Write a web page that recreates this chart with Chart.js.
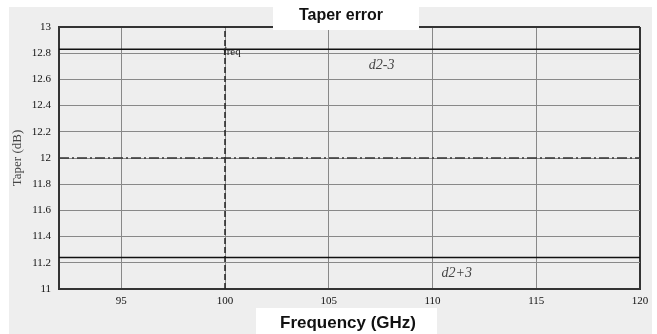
<!DOCTYPE html>
<html>
<head>
<meta charset="utf-8">
<script src="https://cdn.jsdelivr.net/npm/chart.js@4.4.1/dist/chart.umd.min.js"></script>
<style>
  html, body { margin: 0; padding: 0; background: #fff; }
  #wrap { width: 657px; height: 334px; position: relative; }
</style>
</head>
<body>
<div id="wrap"><canvas id="c" width="657" height="334"></canvas></div>
<script>
// ---- data ----
const xTicks = [95, 100, 105, 110, 115, 120];
const yTicks = [11, 11.2, 11.4, 11.6, 11.8, 12, 12.2, 12.4, 12.6, 12.8, 13];
const xRange = [92, 120];
const upperLimit = 12.83;   // d2-3
const lowerLimit = 11.24;   // d2+3
const nominal = 12;
const freqMark = 100;
const labels = [
  { text: 'd2-3', x: 107.55, y: 12.71 },
  { text: 'd2+3', x: 111.17, y: 11.12 }
];

function hline(v, opts) {
  return Object.assign({
    data: [{ x: xRange[0], y: v }, { x: xRange[1], y: v }],
    borderColor: '#111', borderWidth: 1.5, pointRadius: 0, showLine: true, fill: false
  }, opts);
}

// gray panel + white title boxes + annotations
const decor = {
  id: 'decor',
  beforeDraw(chart) {
    const ctx = chart.ctx;
    ctx.save();
    ctx.fillStyle = '#eeeeee';
    ctx.fillRect(9, 7, 643, 327);
    ctx.restore();
  },
  afterDraw(chart) {
    const ctx = chart.ctx;
    const xs = chart.scales.x, ys = chart.scales.y;
    ctx.save();
    // title boxes
    ctx.fillStyle = '#fff';
    ctx.fillRect(273, 0, 146, 30);
    ctx.fillRect(256, 308, 181, 26);
    ctx.fillStyle = '#111';
    ctx.font = 'bold 16px "Liberation Sans", Arial, sans-serif';
    ctx.textAlign = 'center';
    ctx.textBaseline = 'middle';
    ctx.fillText('Taper error', 341, 16);
    ctx.font = 'bold 17px "Liberation Sans", Arial, sans-serif';
    ctx.fillText('Frequency (GHz)', 348, 323);
    // curve labels
    ctx.fillStyle = '#444';
    ctx.font = 'italic 14px "Liberation Serif", "DejaVu Serif", serif';
    labels.forEach(l => ctx.fillText(l.text, xs.getPixelForValue(l.x), ys.getPixelForValue(l.y)));
    // freq marker label
    ctx.fillStyle = '#222';
    ctx.font = '11px "Liberation Serif", serif';
    ctx.textAlign = 'left';
    ctx.fillText('freq', xs.getPixelForValue(freqMark) - 2, ys.getPixelForValue(upperLimit) + 3);
    ctx.restore();
  }
};

new Chart(document.getElementById('c'), {
  type: 'scatter',
  data: {
    datasets: [
      hline(upperLimit),
      hline(lowerLimit),
      hline(nominal, { borderColor: '#333', borderWidth: 1.5, borderDash: [10, 3, 2, 3] }),
      {
        data: [{ x: freqMark, y: 11 }, { x: freqMark, y: 13 }],
        borderColor: '#222', borderWidth: 1.5, borderDash: [6, 3], pointRadius: 0, showLine: true
      }
    ]
  },
  options: {
    responsive: false,
    animation: false,
    layout: { padding: { left: 0, top: 27, right: 17, bottom: 0 } },
    plugins: { legend: { display: false }, tooltip: { enabled: false } },
    scales: {
      x: {
        type: 'linear', min: xRange[0], max: xRange[1],
        afterBuildTicks: s => { s.ticks = xTicks.map(v => ({ value: v })); },
        afterFit: s => { s.height = 45; },
        border: { display: true, color: '#333', width: 2 },
        grid: {
          drawTicks: false,
          color: c => c.tick && c.tick.value === 120 ? '#333' : '#888',
          lineWidth: c => c.tick && c.tick.value === 120 ? 2 : 1
        },
        ticks: { padding: 6, color: '#111', font: { family: '"Liberation Serif", serif', size: 11 } }
      },
      y: {
        type: 'linear', min: 11, max: 13,
        afterBuildTicks: s => { s.ticks = yTicks.map(v => ({ value: v })); },
        afterFit: s => { s.width = 59; },
        border: { display: true, color: '#333', width: 2 },
        grid: {
          drawTicks: false,
          color: c => c.tick && c.tick.value === 13 ? '#333' : '#888',
          lineWidth: c => c.tick && c.tick.value === 13 ? 2 : 1
        },
        ticks: {
          padding: 8, color: '#111', font: { family: '"Liberation Serif", serif', size: 11 },
          callback: v => String(+v.toFixed(1))
        },
        title: {
          display: true, text: 'Taper (dB)', color: '#444', padding: { top: 10, bottom: 0 },
          font: { family: '"Liberation Serif", serif', size: 13 }
        }
      }
    }
  },
  plugins: [decor]
});
</script>
</body>
</html>
